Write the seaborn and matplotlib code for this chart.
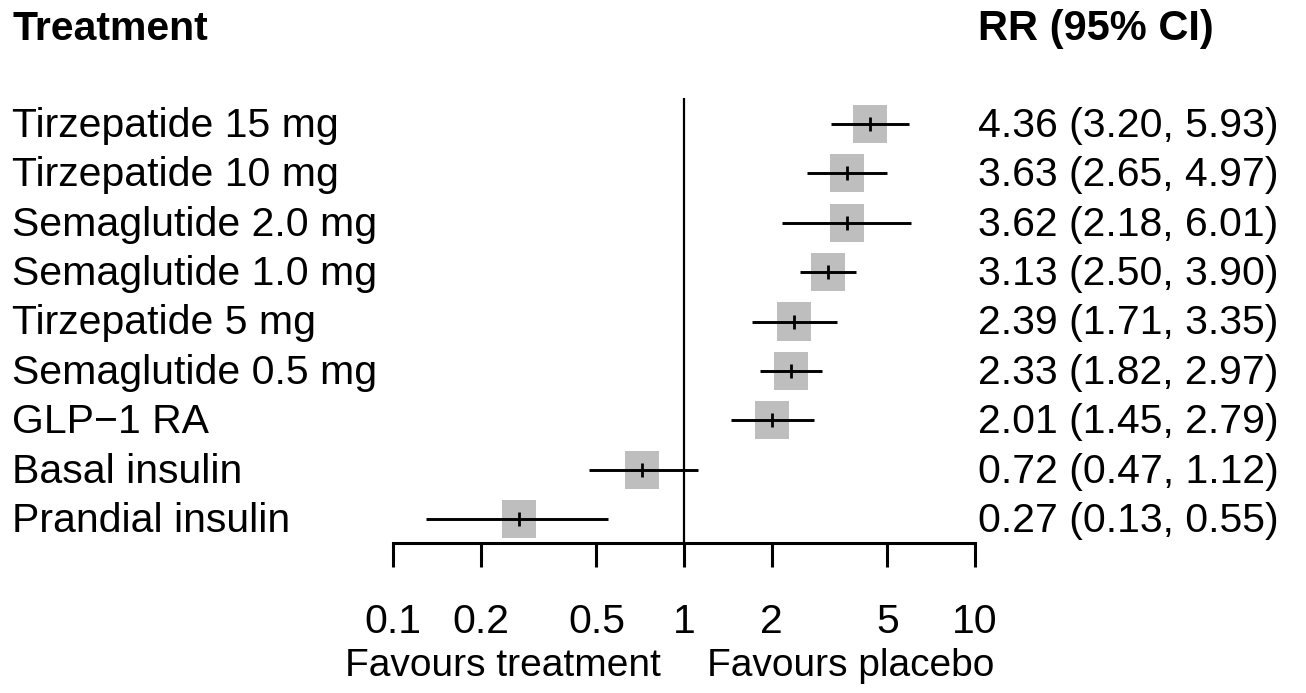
import numpy as np
import pandas as pd
import matplotlib
matplotlib.use("Agg")
import matplotlib.pyplot as plt
import matplotlib.transforms as mtransforms
import seaborn as sns

# Dados do gráfico
treatments = ["Tirzepatide 15 mg", "Tirzepatide 10 mg", "Semaglutide 2.0 mg",
              "Semaglutide 1.0 mg", "Tirzepatide 5 mg", "Semaglutide 0.5 mg",
              "GLP\u22121 RA", "Basal insulin", "Prandial insulin"]
rr = [4.36, 3.63, 3.62, 3.13, 2.39, 2.33, 2.01, 0.72, 0.27]
lower = [3.20, 2.65, 2.18, 2.50, 1.71, 1.82, 1.45, 0.47, 0.13]
upper = [5.93, 4.97, 6.01, 3.90, 3.35, 2.97, 2.79, 1.12, 0.55]
tick_values = [0.1, 0.2, 0.5, 1, 2, 5, 10]
tick_labels = ["0.1", "0.2", "0.5", "1", "2", "5", "10"]

df = pd.DataFrame({"treatment": treatments, "rr": rr, "lower": lower, "upper": upper})
df["row"] = np.arange(len(df), 0, -1)
df["label"] = [f"{r:.2f} ({l:.2f}, {u:.2f})" for r, l, u in zip(rr, lower, upper)]

sns.set_theme(style="white")
plt.rcParams["font.family"] = ["Liberation Sans", "DejaVu Sans"]
plt.rcParams["text.color"] = "black"
plt.rcParams["xtick.color"] = "black"
plt.rcParams["xtick.labelcolor"] = "black"
fs = 29.5

W, H = 1306, 693
fig = plt.figure(figsize=(W / 100, H / 100), dpi=100)
# eixo posicionado em pixels: 0.1 -> 393px, 10 -> 975px; y de 98px a 543px
ax = fig.add_axes([393 / W, (H - 543) / H, (975 - 393) / W, (543 - 98) / H])
ax.set_xscale("log")
ax.set_xlim(0.1, 10)
ax.set_ylim(0.514, 9.527)

# quadrados cinzas
sq = [(-0.89, -1), (0.89, -1), (0.89, 1), (-0.89, 1), (-0.89, -1)]
sns.scatterplot(data=df, x="rr", y="row", marker=sq, s=27.5 ** 2, color="#BEBEBE",
                edgecolor="none", linewidth=0, ax=ax, zorder=2, legend=False)

# intervalos de confiança
ax.hlines(df["row"], df["lower"], df["upper"], color="black", lw=2.1, zorder=3)
ax.plot(df["rr"], df["row"], ls="none", marker="|", ms=10, mew=2, color="black", zorder=4)

# linha de referência
ax.axvline(1, color="black", lw=1.6, zorder=1)

for s in ["top", "right", "left"]:
    ax.spines[s].set_visible(False)
ax.spines["bottom"].set_linewidth(2.2)
ax.spines["bottom"].set_color("black")
ax.set_xticks(tick_values)
ax.set_xticklabels(tick_labels)
ax.xaxis.set_minor_locator(matplotlib.ticker.NullLocator())
ax.tick_params(axis="x", which="major", direction="out", length=17, width=2.2,
               color="black", labelcolor="black", labelsize=fs, pad=26, bottom=True)
ax.set_yticks([])
ax.set_xlabel("")
ax.set_ylabel("")

# textos à esquerda e à direita
left_tr = mtransforms.blended_transform_factory(fig.transFigure, ax.transData)
for _, r in df.iterrows():
    ax.text(12 / W, r["row"] - 0.04, r["treatment"], transform=left_tr, ha="left",
            va="center", fontsize=fs, clip_on=False)
    ax.text(978 / W, r["row"] - 0.04, r["label"], transform=left_tr, ha="left",
            va="center", fontsize=fs, clip_on=False)

fig.text(12 / W, 1 - 29 / H, "Treatment", ha="left", va="center",
         fontsize=fs, fontweight="bold")
fig.text(978 / W, 1 - 29 / H, "RR (95% CI)", ha="left", va="center",
         fontsize=fs + 0.5, fontweight="bold")

bot_tr = mtransforms.blended_transform_factory(ax.transData, fig.transFigure)
fig.text(0.834, 1 - 666 / H, "Favours treatment", transform=bot_tr, ha="right",
         va="center", fontsize=28)
fig.text(1.2, 1 - 666 / H, "Favours placebo", transform=bot_tr, ha="left",
         va="center", fontsize=28)

fig.savefig("out.png", dpi=100, facecolor="white")
